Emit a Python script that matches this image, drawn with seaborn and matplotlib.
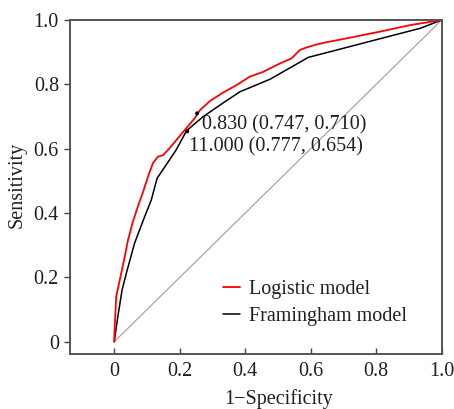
import matplotlib
matplotlib.use("Agg")
import matplotlib.pyplot as plt
import seaborn as sns
import pandas as pd

# ---- data ----
logistic_fpr = [0, 0.001, 0.006, 0.019, 0.03, 0.042, 0.057, 0.072, 0.088, 0.103, 0.118,
                0.133, 0.149, 0.164, 0.18, 0.211, 0.246, 0.262, 0.292, 0.333, 0.374,
                0.414, 0.455, 0.506, 0.542, 0.567, 0.588, 0.618, 0.649, 0.72, 0.812,
                0.903, 1.0]
logistic_tpr = [0, 0.036, 0.14, 0.202, 0.254, 0.316, 0.373, 0.42, 0.466, 0.513, 0.555,
                0.575, 0.58, 0.596, 0.615, 0.653, 0.695, 0.72, 0.748, 0.775, 0.798,
                0.824, 0.839, 0.865, 0.881, 0.907, 0.915, 0.924, 0.931, 0.945, 0.964,
                0.984, 1.0]
fram_fpr = [0, 0.011, 0.024, 0.037, 0.062, 0.093, 0.113, 0.131, 0.189, 0.221, 0.272,
            0.338, 0.384, 0.476, 0.593, 0.654, 0.888, 0.934, 1.0]
fram_tpr = [0, 0.078, 0.161, 0.213, 0.306, 0.389, 0.44, 0.508, 0.596, 0.656, 0.70,
            0.746, 0.777, 0.816, 0.884, 0.90, 0.962, 0.974, 1.0]
diag = [0, 1]
cut_x = [0.253, 0.223]
cut_y = [0.710, 0.654]
cut_labels = ["0.830 (0.747, 0.710)", "11.000 (0.777, 0.654)"]
series_names = ["Logistic model", "Framingham model"]
xticks = [0, 0.2, 0.4, 0.6, 0.8, 1.0]
xticklabels = ["0", "0.2", "0.4", "0.6", "0.8", "1.0"]
yticks = [0, 0.2, 0.4, 0.6, 0.8, 1.0]
yticklabels = ["0", "0.2", "0.4", "0.6", "0.8", "1.0"]

sns.set_style("ticks")
plt.rcParams["font.family"] = ["Liberation Serif", "DejaVu Serif"]
TXT = "#231f20"
FS = 14.5

fig = plt.figure(figsize=(4.54, 4.09), dpi=100)
ax = fig.add_axes([0.1542, 0.1345, 0.8187, 0.8166])

df_log = pd.DataFrame({"x": logistic_fpr, "y": logistic_tpr})
df_fr = pd.DataFrame({"x": fram_fpr, "y": fram_tpr})
df_d = pd.DataFrame({"x": diag, "y": diag})

sns.lineplot(data=df_d, x="x", y="y", ax=ax, color="#a6a6a6", lw=0.9, sort=False)
sns.lineplot(data=df_fr, x="x", y="y", ax=ax, color="black", lw=1.1, sort=False,
             label=series_names[1])
sns.lineplot(data=df_log, x="x", y="y", ax=ax, color="#ff0000", lw=1.3, sort=False,
             label=series_names[0])
sns.scatterplot(x=cut_x, y=cut_y, ax=ax, color="black", s=8, edgecolor="none", zorder=5)

ax.text(0.269, 0.674, cut_labels[0], fontsize=FS, color=TXT, va="center", ha="left")
ax.text(0.228, 0.606, cut_labels[1], fontsize=FS, color=TXT, va="center", ha="left")

ax.set_xlim(-0.135, 1.0)
ax.set_ylim(-0.038, 1.0)
ax.set_xticks(xticks)
ax.set_xticklabels(xticklabels)
ax.set_yticks(yticks)
ax.set_yticklabels(yticklabels)
ax.tick_params(axis="x", direction="in", length=4, width=1, colors="#444444",
               labelcolor=TXT, labelsize=FS, pad=6)
ax.tick_params(axis="y", direction="out", length=4, width=1, colors="#444444",
               labelcolor=TXT, labelsize=FS, pad=4)
for s in ax.spines.values():
    s.set_visible(True)
    s.set_color("#555555")
    s.set_linewidth(1.4)

ax.set_xlabel("1\u2212Specificity", fontsize=FS, color=TXT)
ax.set_ylabel("Sensitivity", fontsize=FS, color=TXT)
ax.xaxis.set_label_coords(0.56, -0.105)
ax.yaxis.set_label_coords(-0.118, 0.506)

h, l = ax.get_legend_handles_labels()
order = [l.index(series_names[0]), l.index(series_names[1])]
ax.legend([h[i] for i in order], [l[i] for i in order], frameon=False, fontsize=FS,
          loc="upper left", bbox_to_anchor=(0.412, 0.222), borderaxespad=0,
          borderpad=0, handlelength=0.85, handletextpad=0.45, labelspacing=0.4,
          labelcolor=TXT)

fig.savefig("out.png", dpi=100)
